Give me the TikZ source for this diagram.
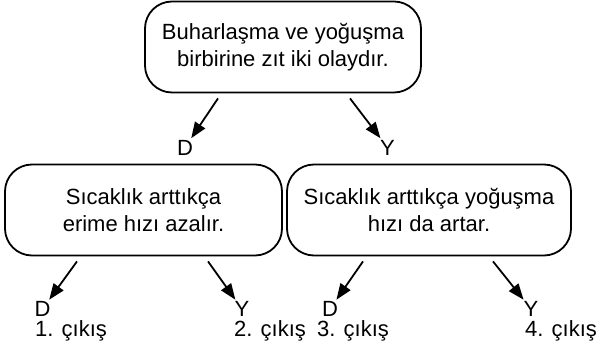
\documentclass[tikz,border=0pt]{standalone}
\usepackage{fontspec}
\setmainfont{Liberation Sans}
\usetikzlibrary{arrows.meta,positioning}
\begin{document}
\begin{tikzpicture}[x=1pt,y=-1pt,
    yazi/.style={font=\fontsize{22}{26.5}\selectfont},
    kutu/.style={yazi,draw,line width=1.8pt,rounded corners=27pt,align=center,
      inner sep=0pt,minimum height=91pt},
    harf/.style={yazi,inner sep=1.5pt},
    cikis/.style={yazi,anchor=base west,inner sep=0pt},
    ok/.style={line width=1.8pt,-{Triangle[length=16pt,width=12pt]}}]
   \useasboundingbox (0,0) rectangle (600,352);
   % kutular
   \node[kutu,minimum width=276pt] (ana) at (283,47) {Buharlaşma ve yoğuşma\\birbirine zıt iki olaydır.};
   \node[kutu,minimum width=277pt] (sol) at (143.5,210) {Sıcaklık arttıkça\\erime hızı azalır.};
   \node[kutu,minimum width=284pt] (sag) at (429,210) {Sıcaklık arttıkça yoğuşma\\hızı da artar.};
   % D / Y harfleri
   \foreach \ad/\x/\y/\h in
     { d0/185/147.5/D,
       y0/387.5/147.5/Y,
       d1/42.5/309/D,
       y1/242/309/Y,
       d2/330/309/D,
       y2/531/309/Y
     }
     \node[harf] (\ad) at (\x,\y) {\h};
   % oklar
   \foreach \k/\dx/\hedef in {ana/-65/d0, ana/67/y0, sol/-66.5/d1, sol/64.5/y1, sag/-66/d2, sag/64/y2}
     \draw[ok] ([xshift=\dx pt,yshift=-5pt]\k.south) -- (\hedef);
   % çıkışlar
   \foreach \i/\x in {1/35,2/234,3/317,4/525}
     \node[cikis] (c\i) at (\x,336.5) {\i. çıkış};
\end{tikzpicture}
\end{document}
